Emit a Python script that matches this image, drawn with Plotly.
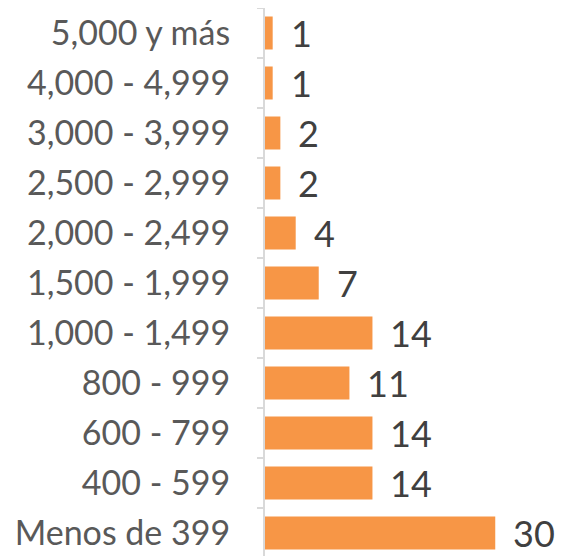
import plotly.graph_objects as go

categories = ["Menos de 399", "400 - 599", "600 - 799", "800 - 999", "1,000 - 1,499",
              "1,500 - 1,999", "2,000 - 2,499", "2,500 - 2,999", "3,000 - 3,999",
              "4,000 - 4,999", "5,000 y más"]
values = [30, 14, 14, 11, 14, 7, 4, 2, 2, 1, 1]

FONT = "Lato"
fig = go.Figure()
fig.add_trace(go.Bar(
    y=categories, x=values, orientation="h",
    marker=dict(color="#F79646", line=dict(width=0)),
    hoverinfo="skip",
))
for c, v in zip(categories, values):
    fig.add_annotation(x=v, y=c, text=str(v), showarrow=False,
                       xanchor="left", yanchor="middle", xshift=16, yshift=0,
                       font=dict(family=FONT, size=36, color="#404040"))

fig.update_layout(
    width=564, height=556,
    margin=dict(l=257, r=0, t=0, b=6, autoexpand=False),
    paper_bgcolor="white", plot_bgcolor="white",
    bargap=0.34, showlegend=False,
)
fig.update_xaxes(range=[0, 40.0], visible=False, automargin=False)
fig.update_yaxes(
    type="category", categoryorder="array", categoryarray=categories,
    automargin=False,
    showline=True, linecolor="#d9d9d9", linewidth=2,
    ticks="outside", tickson="boundaries", ticklen=6, tickcolor="#d9d9d9", tickwidth=2,
    ticklabelstandoff=26, showgrid=False,
    tickfont=dict(family=FONT, size=34, color="#595959"),
)
fig.write_html("out.html")
